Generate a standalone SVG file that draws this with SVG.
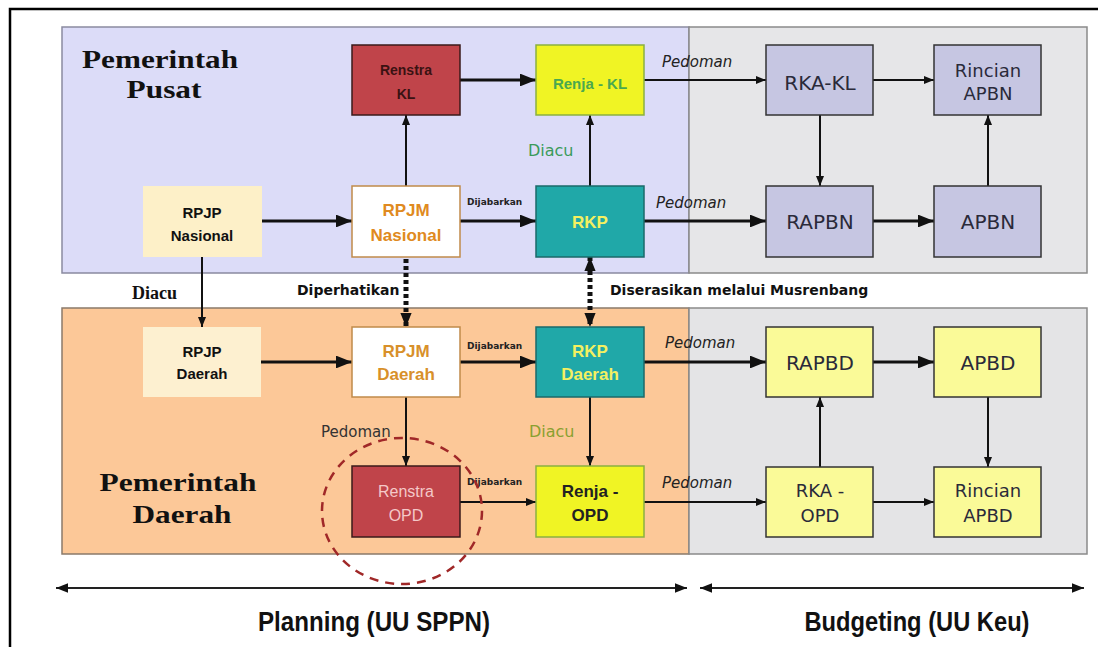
<svg xmlns="http://www.w3.org/2000/svg" width="1098" height="647" viewBox="0 0 1098 647">
<style>
.sec{fill:#111;font-family:"Liberation Serif","Times New Roman",serif;font-weight:bold;font-size:26px;text-anchor:middle}
.nb{font-family:"Liberation Sans",Arial,sans-serif;font-weight:bold;text-anchor:middle}
.nv{font-family:"DejaVu Sans",Verdana,sans-serif;text-anchor:middle;fill:#2a2a3a}
.ped{font-family:"DejaVu Sans",Verdana,sans-serif;font-style:italic;font-size:15px;fill:#222}
.dj{font-family:"DejaVu Sans",Verdana,sans-serif;font-weight:bold;font-size:9px;fill:#222}
.lab{font-family:"DejaVu Sans",Verdana,sans-serif;font-weight:bold;font-size:14px;fill:#111}
.ln{stroke:#111;fill:none;stroke-width:2}
.tk{stroke:#111;fill:none;stroke-width:3.2}
.dt{stroke:#111;fill:none;stroke-width:5;stroke-dasharray:4 3}
.yel{fill:#fafa98;stroke:#333;stroke-width:1.5}
.lav{fill:#c6c6e2;stroke:#333;stroke-width:1.5}
.bot{font-family:"Liberation Sans Narrow","Liberation Sans",Arial,sans-serif;font-weight:bold;font-size:27px;fill:#111;text-anchor:middle}
</style>
<defs>
<marker id="a" viewBox="0 0 10 8" refX="10" refY="4" markerWidth="5" markerHeight="4" orient="auto" markerUnits="strokeWidth"><path d="M0,0 L10,4 L0,8 z" fill="#111"/></marker>
<marker id="ad" viewBox="0 0 10 8" refX="10" refY="4" markerWidth="14" markerHeight="12" orient="auto-start-reverse" markerUnits="userSpaceOnUse"><path d="M0,0 L10,4 L0,8 z" fill="#111"/></marker>
<marker id="ab" viewBox="0 0 10 8" refX="10" refY="4" markerWidth="12" markerHeight="10" orient="auto-start-reverse" markerUnits="userSpaceOnUse"><path d="M0,0 L10,4 L0,8 z" fill="#111"/></marker>
</defs>
<rect x="0" y="0" width="1098" height="647" fill="#fff"/>
<rect x="10" y="9" width="1100" height="700" fill="none" stroke="#000" stroke-width="2.5"/>

<g id="regions">
<rect x="62" y="27" width="627" height="246" fill="#dcdcf8" stroke="#8a8aa0" stroke-width="1.5"/>
<rect x="689" y="27" width="398" height="246" fill="#e6e6e8" stroke="#8a8a8a" stroke-width="1.5"/>
<rect x="62" y="308" width="627" height="246" fill="#fcc898" stroke="#8a7a6a" stroke-width="1.5"/>
<rect x="689" y="308" width="398" height="246" fill="#e4e4e6" stroke="#8a8a8a" stroke-width="1.5"/>
<text class="sec"><tspan x="160" y="68" textLength="156" lengthAdjust="spacingAndGlyphs">Pemerintah</tspan><tspan x="164" y="98" textLength="75" lengthAdjust="spacingAndGlyphs">Pusat</tspan></text>
<text class="sec"><tspan x="178" y="491" textLength="157" lengthAdjust="spacingAndGlyphs">Pemerintah</tspan><tspan x="182" y="523" textLength="99" lengthAdjust="spacingAndGlyphs">Daerah</tspan></text>
</g>

<g id="connectors">
<line class="tk" x1="262" y1="221" x2="352" y2="221" marker-end="url(#a)"/>
<line class="ln" x1="406" y1="186" x2="406" y2="115" marker-end="url(#a)"/>
<line class="tk" x1="460" y1="80" x2="536" y2="80" marker-end="url(#a)"/>
<line class="ln" x1="590" y1="186" x2="590" y2="115" marker-end="url(#a)"/>
<line class="tk" x1="460" y1="221" x2="536" y2="221" marker-end="url(#a)"/>
<line class="ln" x1="644" y1="80" x2="766" y2="80" marker-end="url(#a)"/>
<line class="tk" x1="644" y1="221" x2="766" y2="221" marker-end="url(#a)"/>
<line class="ln" x1="820" y1="115" x2="820" y2="186" marker-end="url(#a)"/>
<line class="ln" x1="873" y1="80" x2="934" y2="80" marker-end="url(#a)"/>
<line class="tk" x1="873" y1="221" x2="934" y2="221" marker-end="url(#a)"/>
<line class="ln" x1="988" y1="186" x2="988" y2="115" marker-end="url(#a)"/>
<line class="ln" x1="202" y1="257" x2="202" y2="327" marker-end="url(#a)"/>
<line class="dt" x1="406" y1="259" x2="406" y2="327" marker-end="url(#ad)"/>
<line class="dt" x1="590" y1="257" x2="590" y2="327" marker-start="url(#ad)" marker-end="url(#ad)"/>
<line class="tk" x1="261" y1="362" x2="352" y2="362" marker-end="url(#a)"/>
<line class="tk" x1="460" y1="362" x2="536" y2="362" marker-end="url(#a)"/>
<line class="tk" x1="644" y1="362" x2="766" y2="362" marker-end="url(#a)"/>
<line class="tk" x1="873" y1="362" x2="934" y2="362" marker-end="url(#a)"/>
<line class="ln" x1="820" y1="467" x2="820" y2="397" marker-end="url(#a)"/>
<line class="ln" x1="988" y1="397" x2="988" y2="467" marker-end="url(#a)"/>
<line class="ln" x1="406" y1="397" x2="406" y2="466" marker-end="url(#a)"/>
<line class="ln" x1="590" y1="397" x2="590" y2="466" marker-end="url(#a)"/>
<line class="ln" x1="460" y1="502" x2="536" y2="502" marker-end="url(#a)"/>
<line class="ln" x1="644" y1="502" x2="766" y2="502" marker-end="url(#a)"/>
<line class="ln" x1="873" y1="502" x2="934" y2="502" marker-end="url(#a)"/>
<line x1="56" y1="588" x2="687" y2="588" stroke="#222" stroke-width="2" marker-start="url(#ab)" marker-end="url(#ab)"/>
<line x1="700" y1="588" x2="1084" y2="588" stroke="#222" stroke-width="2" marker-start="url(#ab)" marker-end="url(#ab)"/>
<text class="dj" x="467" y="205">Dijabarkan</text>
<text class="dj" x="467" y="349">Dijabarkan</text>
<text class="dj" x="467" y="485">Dijabarkan</text>
<text class="ped" x="662" y="67">Pedoman</text>
<text class="ped" x="656" y="208">Pedoman</text>
<text class="ped" x="665" y="348">Pedoman</text>
<text class="ped" x="662" y="488">Pedoman</text>
<text x="528" y="156" font-family="DejaVu Sans,Verdana,sans-serif" font-size="16" fill="#3a9a5a">Diacu</text>
<text x="529" y="437" font-family="DejaVu Sans,Verdana,sans-serif" font-size="16" fill="#8aa030">Diacu</text>
<text x="132" y="299" font-family="Liberation Serif,Times New Roman,serif" font-weight="bold" font-size="18" fill="#111">Diacu</text>
<text class="lab" x="297" y="295">Diperhatikan</text>
<text class="lab" x="610" y="295">Diserasikan melalui Musrenbang</text>
<text x="321" y="437" font-family="DejaVu Sans,Verdana,sans-serif" font-size="15" fill="#333">Pedoman</text>
<ellipse cx="402" cy="511" rx="80" ry="73" fill="none" stroke="#a02828" stroke-width="2.5" stroke-dasharray="9 7"/>
<text class="bot" x="374" y="631" textLength="232" lengthAdjust="spacingAndGlyphs">Planning (UU SPPN)</text>
<text class="bot" x="917" y="631" textLength="225" lengthAdjust="spacingAndGlyphs">Budgeting (UU Keu)</text>
</g>

<g id="renstra-kl"><rect x="352" y="45" width="108" height="70" fill="#c0444a" stroke="#3a1a1a" stroke-width="1.5"/><text class="nb" font-size="14" fill="#3a1212"><tspan x="406" y="75">Renstra</tspan><tspan x="406" y="99">KL</tspan></text></g>
<g id="renja-kl"><rect x="536" y="45" width="108" height="70" fill="#f0f424" stroke="#8ab040" stroke-width="1.5"/><text class="nb" x="590" y="89" font-size="15" fill="#4aa850">Renja - KL</text></g>
<g id="rpjp-nasional"><rect x="143" y="186" width="119" height="71" fill="#fdf0c8"/><text class="nb" font-size="15" fill="#111"><tspan x="202" y="218">RPJP</tspan><tspan x="202" y="241">Nasional</tspan></text></g>
<g id="rpjm-nasional"><rect x="352" y="186" width="108" height="71" fill="#fff" stroke="#c08a4a" stroke-width="1.5"/><text class="nb" font-size="17" fill="#e08a20"><tspan x="406" y="216">RPJM</tspan><tspan x="406" y="241">Nasional</tspan></text></g>
<g id="rkp"><rect x="536" y="186" width="108" height="71" fill="#20a8a8" stroke="#1a6a6a" stroke-width="1.5"/><text class="nb" x="590" y="228" font-size="17" fill="#f4f060">RKP</text></g>
<g id="rka-kl"><rect class="lav" x="766" y="45" width="107" height="70"/><text class="nv" x="820" y="90" font-size="20">RKA-KL</text></g>
<g id="rincian-apbn"><rect class="lav" x="934" y="45" width="107" height="70"/><text class="nv" font-size="18"><tspan x="988" y="77">Rincian</tspan><tspan x="988" y="100">APBN</tspan></text></g>
<g id="rapbn"><rect class="lav" x="766" y="186" width="107" height="71"/><text class="nv" x="820" y="229" font-size="20">RAPBN</text></g>
<g id="apbn"><rect class="lav" x="934" y="186" width="107" height="71"/><text class="nv" x="988" y="229" font-size="20">APBN</text></g>

<g id="rpjp-daerah"><rect x="143" y="327" width="118" height="70" fill="#fdf0d0"/><text class="nb" font-size="15" fill="#111"><tspan x="202" y="357">RPJP</tspan><tspan x="202" y="379">Daerah</tspan></text></g>
<g id="rpjm-daerah"><rect x="352" y="327" width="108" height="70" fill="#fff" stroke="#c08a4a" stroke-width="1.5"/><text class="nb" font-size="17" fill="#d8902a"><tspan x="406" y="357">RPJM</tspan><tspan x="406" y="380">Daerah</tspan></text></g>
<g id="rkp-daerah"><rect x="536" y="327" width="108" height="70" fill="#20a8a8" stroke="#1a6a6a" stroke-width="1.5"/><text class="nb" font-size="17" fill="#f4f060"><tspan x="590" y="357">RKP</tspan><tspan x="590" y="380">Daerah</tspan></text></g>
<g id="renstra-opd"><rect x="352" y="466" width="108" height="71" fill="#c0444a" stroke="#3a1a1a" stroke-width="1.5"/><text font-family="Liberation Sans,Arial,sans-serif" text-anchor="middle" font-size="16" fill="#f4c8c8"><tspan x="406" y="497">Renstra</tspan><tspan x="406" y="521">OPD</tspan></text></g>
<g id="renja-opd"><rect x="536" y="466" width="108" height="71" fill="#f0f424" stroke="#8ab040" stroke-width="1.5"/><text class="nb" font-size="17" fill="#222"><tspan x="590" y="497">Renja -</tspan><tspan x="590" y="521">OPD</tspan></text></g>
<g id="rapbd"><rect class="yel" x="766" y="327" width="107" height="70"/><text class="nv" x="820" y="370" font-size="20">RAPBD</text></g>
<g id="apbd"><rect class="yel" x="934" y="327" width="107" height="70"/><text class="nv" x="988" y="370" font-size="20">APBD</text></g>
<g id="rka-opd"><rect class="yel" x="766" y="467" width="107" height="70"/><text class="nv" font-size="18"><tspan x="820" y="497">RKA -</tspan><tspan x="820" y="522">OPD</tspan></text></g>
<g id="rincian-apbd"><rect class="yel" x="934" y="467" width="107" height="70"/><text class="nv" font-size="18"><tspan x="988" y="497">Rincian</tspan><tspan x="988" y="522">APBD</tspan></text></g>
</svg>
